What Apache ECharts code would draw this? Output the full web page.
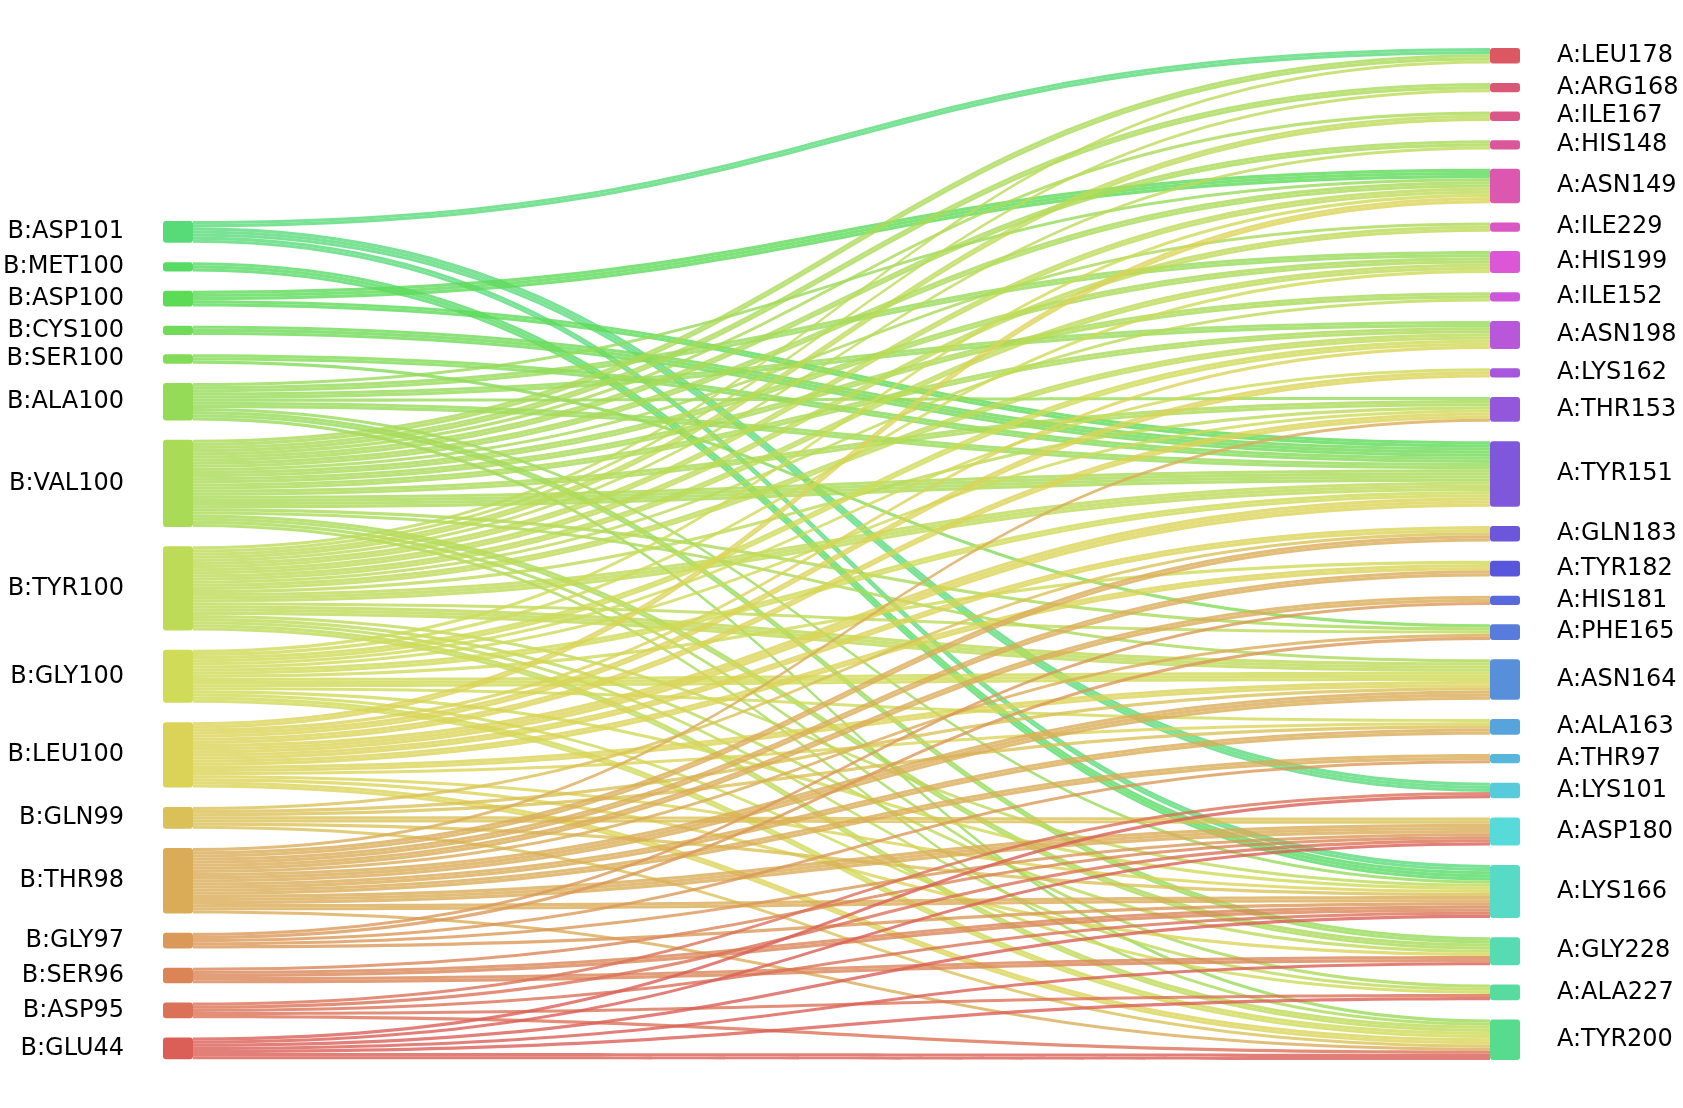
<!DOCTYPE html>
<html>
<head>
<meta charset="utf-8">
<script src="https://cdn.jsdelivr.net/npm/echarts@6/dist/echarts.min.js"></script>
<style>
html,body{margin:0;padding:0;background:#ffffff;}
#chart{width:1683px;height:1108px;}
</style>
</head>
<body>
<div id="chart"></div>
<script>
// ---------------- data ----------------
const leftNodes = ['B:ASP101','B:MET100','B:ASP100','B:CYS100','B:SER100','B:ALA100','B:VAL100','B:TYR100',
  'B:GLY100','B:LEU100','B:GLN99','B:THR98','B:GLY97','B:SER96','B:ASP95','B:GLU44'];
const rightNodes = ['A:LEU178','A:ARG168','A:ILE167','A:HIS148','A:ASN149','A:ILE229','A:HIS199','A:ILE152',
  'A:ASN198','A:LYS162','A:THR153','A:TYR151','A:GLN183','A:TYR182','A:HIS181','A:PHE165','A:ASN164',
  'A:ALA163','A:THR97','A:LYS101','A:ASP180','A:LYS166','A:GLY228','A:ALA227','A:TYR200'];
// [source, target, number of contacts]
const contacts = [
  ['B:ASP101','A:LEU178',2],['B:ASP101','A:LYS101',3],['B:ASP101','A:LYS166',2],
  ['B:MET100','A:LYS166',3],
  ['B:ASP100','A:ASN149',3],['B:ASP100','A:TYR151',2],
  ['B:CYS100','A:TYR151',3],
  ['B:SER100','A:TYR151',2],['B:SER100','A:PHE165',1],
  ['B:ALA100','A:ASN149',1],['B:ALA100','A:HIS199',2],['B:ALA100','A:ASN198',2],['B:ALA100','A:THR153',1],
  ['B:ALA100','A:TYR151',2],['B:ALA100','A:LYS166',1],['B:ALA100','A:GLY228',2],['B:ALA100','A:TYR200',1],
  ['B:VAL100','A:LEU178',2],['B:VAL100','A:ARG168',2],['B:VAL100','A:ILE167',1],['B:VAL100','A:HIS148',2],
  ['B:VAL100','A:ASN149',2],['B:VAL100','A:ILE229',1],['B:VAL100','A:HIS199',2],['B:VAL100','A:ILE152',2],
  ['B:VAL100','A:ASN198',2],['B:VAL100','A:THR153',2],['B:VAL100','A:TYR151',4],['B:VAL100','A:PHE165',1],
  ['B:VAL100','A:ASN164',1],['B:VAL100','A:GLY228',2],['B:VAL100','A:ALA227',1],['B:VAL100','A:TYR200',1],
  ['B:TYR100','A:LEU178',1],['B:TYR100','A:ARG168',1],['B:TYR100','A:ILE167',2],['B:TYR100','A:HIS148',1],
  ['B:TYR100','A:ASN149',2],['B:TYR100','A:ILE229',2],['B:TYR100','A:HIS199',2],['B:TYR100','A:ILE152',1],
  ['B:TYR100','A:ASN198',2],['B:TYR100','A:THR153',1],['B:TYR100','A:TYR151',3],['B:TYR100','A:PHE165',1],
  ['B:TYR100','A:ASN164',3],['B:TYR100','A:LYS166',1],['B:TYR100','A:GLY228',1],['B:TYR100','A:ALA227',1],
  ['B:TYR100','A:TYR200',2],
  ['B:GLY100','A:ASN149',1],['B:GLY100','A:HIS199',1],['B:GLY100','A:ASN198',2],['B:GLY100','A:LYS162',1],
  ['B:GLY100','A:THR153',1],['B:GLY100','A:TYR151',2],['B:GLY100','A:TYR182',1],['B:GLY100','A:ASN164',3],
  ['B:GLY100','A:ALA163',1],['B:GLY100','A:LYS166',1],['B:GLY100','A:ALA227',1],['B:GLY100','A:TYR200',2],
  ['B:LEU100','A:ASN149',2],['B:LEU100','A:ASN198',1],['B:LEU100','A:LYS162',2],['B:LEU100','A:THR153',2],
  ['B:LEU100','A:TYR151',3],['B:LEU100','A:GLN183',2],['B:LEU100','A:TYR182',2],['B:LEU100','A:ASN164',2],
  ['B:LEU100','A:ALA163',1],['B:LEU100','A:LYS166',1],['B:LEU100','A:GLY228',1],['B:LEU100','A:TYR200',2],
  ['B:GLN99','A:GLN183',1],['B:GLN99','A:ASN164',1],['B:GLN99','A:ALA163',1],['B:GLN99','A:ASP180',2],
  ['B:GLN99','A:LYS166',1],['B:GLN99','A:TYR200',1],
  ['B:THR98','A:THR153',1],['B:THR98','A:GLN183',2],['B:THR98','A:TYR182',2],['B:THR98','A:HIS181',2],
  ['B:THR98','A:PHE165',1],['B:THR98','A:ASN164',3],['B:THR98','A:ALA163',2],['B:THR98','A:THR97',2],
  ['B:THR98','A:ASP180',3],['B:THR98','A:LYS166',2],['B:THR98','A:TYR200',1],
  ['B:GLY97','A:HIS181',1],['B:GLY97','A:THR97',1],['B:GLY97','A:PHE165',1],['B:GLY97','A:ASP180',1],
  ['B:GLY97','A:LYS166',1],
  ['B:SER96','A:ASP180',1],['B:SER96','A:LYS166',2],['B:SER96','A:GLY228',2],
  ['B:ASP95','A:LYS101',1],['B:ASP95','A:ASP180',1],['B:ASP95','A:LYS166',1],['B:ASP95','A:ALA227',1],
  ['B:ASP95','A:TYR200',1],
  ['B:GLU44','A:LYS101',1],['B:GLU44','A:ASP180',1],['B:GLU44','A:LYS166',1],['B:GLU44','A:GLY228',1],
  ['B:GLU44','A:ALA227',1],['B:GLU44','A:TYR200',2]
];

// ---------------- styling helpers ----------------
const FONT = 'DejaVu Sans';
const LEFT_SPACER = 49.3; // empty room above the left column (in value units)

function hlsColor(i, n) {
  const h = ((i / n + 0.01) % 1) * 6, l = 0.6, s = 0.65;
  const c = (1 - Math.abs(2 * l - 1)) * s;
  const x = c * (1 - Math.abs((h % 2) - 1));
  const m = l - c / 2;
  let rgb;
  if (h < 1) rgb = [c, x, 0];
  else if (h < 2) rgb = [x, c, 0];
  else if (h < 3) rgb = [0, c, x];
  else if (h < 4) rgb = [0, x, c];
  else if (h < 5) rgb = [x, 0, c];
  else rgb = [c, 0, x];
  return 'rgb(' + rgb.map(v => Math.round((v + m) * 255)).join(',') + ')';
}

const nL = leftNodes.length, nR = rightNodes.length, nAll = nL + nR;
const nodes = [{
  name: '__spacer__', value: LEFT_SPACER, depth: 0,
  itemStyle: { color: 'rgba(0,0,0,0)' }, label: { show: false }
}];
leftNodes.forEach((name, k) => nodes.push({
  name, depth: 0,
  itemStyle: { color: hlsColor(nL - 1 - k, nAll) },
  label: { position: 'left', distance: 39 }
}));
rightNodes.forEach((name, k) => nodes.push({
  name, depth: 1,
  itemStyle: { color: hlsColor(nL + nR - 1 - k, nAll) },
  label: { position: 'right', distance: 37 }
}));

const links = [];
contacts.forEach(([s, t, n]) => {
  for (let j = 0; j < n; j++) links.push({ source: s, target: t, value: 1 });
});

const chart = echarts.init(document.getElementById('chart'), null, { renderer: 'canvas' });
chart.setOption({
  animation: false,
  backgroundColor: '#ffffff',
  series: [{
    type: 'sankey',
    left: 163, right: 163, top: 48, bottom: 48,
    nodeWidth: 30,
    nodeGap: 19.3,
    layoutIterations: 0,
    nodeAlign: 'left',
    draggable: false,
    data: nodes,
    links: links,
    label: { fontFamily: FONT, fontSize: 24, color: '#000000' },
    itemStyle: { borderWidth: 0, borderRadius: 3 },
    lineStyle: { color: 'source', opacity: 0.8, curveness: 0.5 },
    emphasis: { disabled: true }
  }]
});
</script>
</body>
</html>
